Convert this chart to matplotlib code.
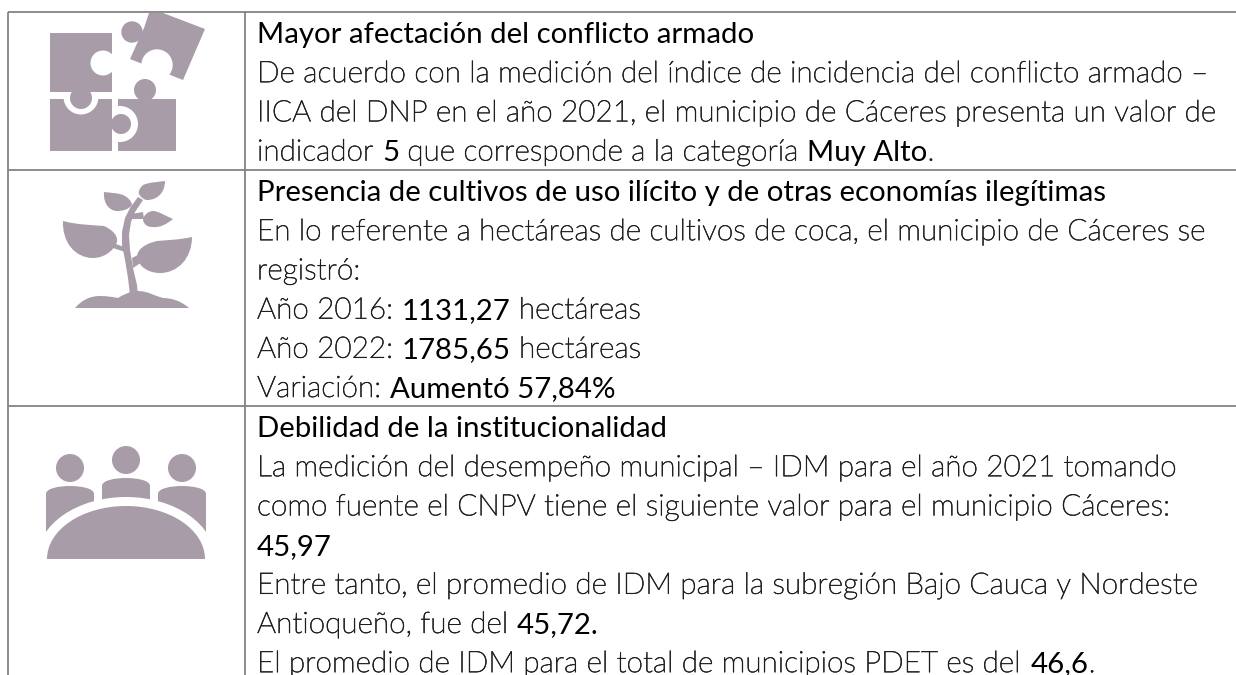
import matplotlib
matplotlib.use('Agg')
import matplotlib.pyplot as plt
import matplotlib.patheffects as pe
from matplotlib import font_manager
from matplotlib.patches import Circle, Ellipse, PathPatch, Polygon, Rectangle
from matplotlib.path import Path

W, H = 1236, 675
LINE = '#7f7f7f'
ICON = '#a79ca8'
BODY_COLOR = '#1c1c1c'
BODY_SIZE = 21.4
HEAD_SIZE = 21.15

row1 = ['Mayor afectación del conflicto armado',
        'De acuerdo con la medición del índice de incidencia del conflicto armado –',
        'IICA del DNP en el año 2021, el municipio de Cáceres presenta un valor de',
        ['indicador ', '*5', ' que corresponde a la categoría ', '*Muy Alto', '.']]
row2 = ['Presencia de cultivos de uso ilícito y de otras economías ilegítimas',
        'En lo referente a hectáreas de cultivos de coca, el municipio de Cáceres se',
        'registró:',
        ['Año 2016: ', '*1131,27', ' hectáreas'],
        ['Año 2022: ', '*1785,65', ' hectáreas'],
        ['Variación: ', '*Aumentó 57,84%']]
row3 = ['Debilidad de la institucionalidad',
        'La medición del desempeño municipal – IDM para el año 2021 tomando',
        'como fuente el CNPV tiene el siguiente valor para el municipio Cáceres:',
        ['*45,97'],
        'Entre tanto, el promedio de IDM para la subregión Bajo Cauca y Nordeste',
        ['Antioqueño, fue del ', '*45,72.'],
        ['El promedio de IDM para el total de municipios PDET es del ', '*46,6', '.']]

# lato light for the body text, if it is there
light_file = None
for f in font_manager.fontManager.ttflist:
    low = f.fname.lower()
    if f.name.startswith('Lato') and 'light' in low and 'italic' not in low:
        light_file = f.fname
        break
if light_file:
    body_font = font_manager.FontProperties(fname=light_file, size=BODY_SIZE)
else:
    body_font = font_manager.FontProperties(family='Lato', size=BODY_SIZE)
head_font = font_manager.FontProperties(family='Lato', size=HEAD_SIZE)

fig = plt.figure(figsize=(W / 100, H / 100), dpi=100)
ax = fig.add_axes([0, 0, 1, 1])
ax.set_xlim(0, W)
ax.set_ylim(H, 0)
ax.axis('off')

for y in (12, 170, 406):
    ax.plot([8, W], [y, y], color=LINE, lw=1.25, solid_capstyle='butt')
for x in (8, 245):
    ax.plot([x, x], [12, H], color=LINE, lw=1.25, solid_capstyle='butt')


def add_row(lines, top):
    r = fig.canvas.get_renderer()
    for i, line in enumerate(lines):
        y = top + 31 + i * 39.2
        x = 257
        if isinstance(line, str):
            line = ['*' + line] if i == 0 else [line]
        for s in line:
            em = s.startswith('*')
            t = ax.text(x, y, s.lstrip('*'), va='baseline', ha='left',
                        color='black' if em else BODY_COLOR,
                        fontproperties=head_font if em else body_font)
            if not em:
                # lato light comes out paler than the original face
                t.set_path_effects([pe.withStroke(linewidth=0.35, foreground=BODY_COLOR)])
            x += t.get_window_extent(r).width


add_row(row1, 12)
add_row(row2, 170)
add_row(row3, 406)


def shape(p):
    p.set(fc=ICON, ec='none')
    ax.add_patch(p)


def white(p):
    p.set(fc='white', ec='none')
    ax.add_patch(p)


def curved(verts):
    codes = [Path.MOVETO] + [Path.CURVE4] * (len(verts) - 1)
    shape(PathPatch(Path(verts, codes)))


# puzzle
shape(Rectangle((118, 99), 58, 52))
shape(Circle((145, 90), 11))
white(Circle((120, 124), 18))
shape(Rectangle((50, 99), 62, 52))
shape(Circle((121, 124), 10))
white(Circle((81, 97), 17.5))
shape(Rectangle((50, 33), 62, 59))
shape(Circle((81, 98), 11))
white(Circle((103, 63), 12.5))
shape(Polygon([(149, 13), (163, 13), (205, 29), (183, 80), (130, 59), (144, 28)]))
shape(Circle((132, 32), 10.7))
white(Circle((157, 65), 15.7))

# seedling
curved([(63, 221), (78, 225), (92, 225), (104, 226), (113, 230), (118, 236), (117, 242),
        (113, 252), (103, 258), (93, 258), (75, 258), (62, 242), (63, 221)])
curved([(192, 237), (178, 240), (168, 240), (157, 241), (144, 244), (137, 250), (137, 257),
        (139, 268), (150, 273), (160, 273), (178, 273), (192, 258), (192, 237)])
curved([(104, 192), (112, 193), (118, 193), (123, 195), (128, 197), (132, 202), (132, 205),
        (128, 210), (122, 211), (117, 211), (110, 211), (103, 204), (104, 192)])
curved([(165, 181), (158, 182), (150, 182), (143, 185), (140, 188), (138, 191), (139, 194),
        (141, 198), (145, 200), (147, 200), (158, 200), (165, 192), (165, 181)])
curved([(173, 219), (166, 216), (158, 211), (153, 211), (148, 211), (143, 216), (143, 220),
        (144, 225), (148, 227), (152, 227), (160, 228), (167, 224), (173, 219)])
shape(Polygon([(130, 295), (128, 278), (125, 260), (122, 245), (122, 232), (125, 218), (130, 208), (138, 197),
               (143, 200), (135, 212), (131, 222), (129, 235), (130, 250), (133, 268), (137, 285), (138, 295)]))
shape(Polygon([(113, 243), (124, 247), (125, 252), (113, 248)]))
shape(Polygon([(132, 258), (140, 254), (142, 262), (133, 268)]))
shape(Polygon([(131, 214), (143, 212), (144, 219), (130, 219)]))
curved([(75, 308), (82, 300), (90, 296), (100, 296), (107, 296), (113, 297), (118, 298),
        (123, 295), (130, 291), (137, 291), (148, 291), (155, 296), (163, 298),
        (170, 298), (180, 300), (189, 308), (150, 308), (110, 308), (75, 308)])

# people round a table
for cx, cy in ((70, 468), (126, 460), (182, 468)):
    shape(Circle((cx, cy), 14))
for x0, x1, top in ((46, 94, 486), (102, 150, 478), (158, 206, 486)):
    xm = (x0 + x1) / 2
    shape(PathPatch(Path([(x0, top + 50), (x0, top + 8), (x0, top + 2), (x0 + 14, top), (xm, top),
                          (x1 - 14, top), (x1, top + 2), (x1, top + 8), (x1, top + 50), (x0, top + 50)],
                         [Path.MOVETO, Path.LINETO, Path.CURVE4, Path.CURVE4, Path.CURVE4, Path.CURVE4,
                          Path.CURVE4, Path.CURVE4, Path.LINETO, Path.CLOSEPOLY])))
white(Ellipse((126, 559), 178, 124))
shape(Ellipse((126, 559), 158, 106))
white(Rectangle((30, 559), 200, 60))

fig.savefig('out.png', dpi=100)
